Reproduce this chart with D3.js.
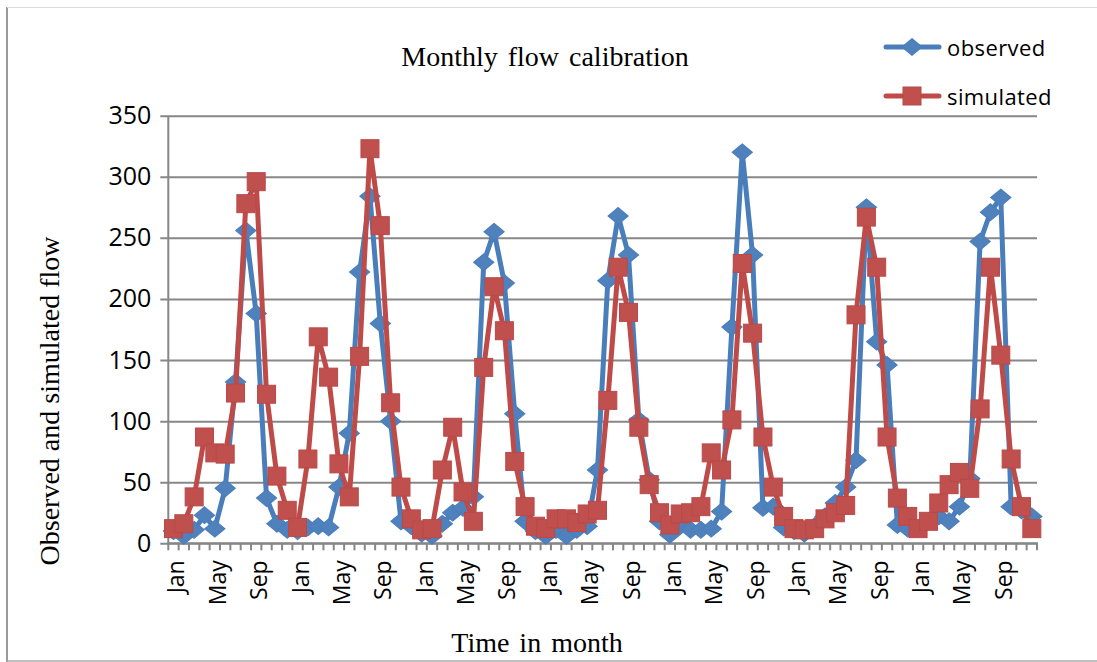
<!DOCTYPE html>
<html>
<head>
<meta charset="utf-8">
<script src="https://cdn.jsdelivr.net/npm/d3@7"></script>
<style>
  html, body { margin: 0; padding: 0; background: #fff; }
  svg { display: block; }
</style>
</head>
<body>
<svg id="chart" width="1097" height="662"></svg>
<script>
// ---- data ----
const categories = [
  "Jan","Feb","Mar","Apr","May","Jun","Jul","Aug","Sep","Oct","Nov","Dec",
  "Jan","Feb","Mar","Apr","May","Jun","Jul","Aug","Sep","Oct","Nov","Dec",
  "Jan","Feb","Mar","Apr","May","Jun","Jul","Aug","Sep","Oct","Nov","Dec",
  "Jan","Feb","Mar","Apr","May","Jun","Jul","Aug","Sep","Oct","Nov","Dec",
  "Jan","Feb","Mar","Apr","May","Jun","Jul","Aug","Sep","Oct","Nov","Dec",
  "Jan","Feb","Mar","Apr","May","Jun","Jul","Aug","Sep","Oct","Nov","Dec",
  "Jan","Feb","Mar","Apr","May","Jun","Jul","Aug","Sep","Oct","Nov","Dec"
];
const shownLabels = ["Jan","May","Sep"];
const observed = [
  10, 6, 11, 23, 12, 45, 132, 256, 188, 37, 16, 11,
  10, 13, 14, 13, 46, 90, 222, 284, 180, 100, 18, 14,
  8, 6, 16, 25, 29, 38, 230, 255, 213, 106, 18, 10,
  6, 11, 6, 11, 14, 60, 215, 268, 236, 101, 52, 18,
  7, 14, 11, 11, 12, 26, 177, 320, 236, 29, 30, 13,
  10, 8, 14, 22, 33, 46, 68, 275, 165, 146, 15, 12,
  12, 18, 22, 18, 30, 53, 247, 271, 283, 30, 27, 22
];
const simulated = [
  12, 16, 38, 87, 74, 73, 123, 278, 296, 122, 55, 27,
  13, 69, 169, 136, 65, 38, 153, 323, 260, 115, 46, 20,
  11, 12, 60, 95, 42, 18, 144, 210, 174, 67, 30, 14,
  12, 20, 20, 17, 24, 27, 117, 226, 189, 95, 48, 25,
  15, 24, 25, 30, 74, 60, 101, 229, 172, 87, 46, 22,
  12, 11, 12, 20, 25, 31, 187, 267, 226, 87, 37, 22,
  12, 18, 33, 48, 58, 45, 110, 226, 154, 69, 30, 12
];
const yTicks = [0, 50, 100, 150, 200, 250, 300, 350];
const seriesNames = ["observed", "simulated"];
const titleText = "Monthly flow calibration";
const xTitle = "Time in month";
const yTitle = "Observed and simulated flow";

(function () {
  const svg = d3.select("#chart");
  const pLeft = 168.3, pRight = 1037, pTop = 115.7, pBottom = 543.3;
  const gridColor = "#878787";
  const blue = "#4A7EBB", blueFill = "#4F81BD";
  const red = "#BE4B48", redFill = "#C0504D";

  // outer border
  svg.append("line").attr("x1", 7).attr("x2", 7).attr("y1", 7).attr("y2", 662)
    .attr("stroke", "#9a9a9a").attr("stroke-width", 2);
  svg.append("line").attr("x1", 7).attr("x2", 1097).attr("y1", 7.5).attr("y2", 7.5)
    .attr("stroke", "#dcdcdc").attr("stroke-width", 1);
  svg.append("line").attr("x1", 7).attr("x2", 1097).attr("y1", 661).attr("y2", 661)
    .attr("stroke", "#ababab").attr("stroke-width", 1.5);

  const idx = d3.range(categories.length);
  const x = d3.scaleBand().domain(idx).range([pLeft, pRight]).padding(0);
  const y = d3.scaleLinear().domain([0, 350]).range([pBottom, pTop]);
  const cx = i => x(i) + x.bandwidth() / 2;

  // gridlines + y ticks
  const yAxis = d3.axisLeft(y).tickValues(yTicks).tickSize(-(pRight - pLeft)).tickSizeOuter(0);
  const gy = svg.append("g").attr("transform", `translate(${pLeft},0)`).call(yAxis);
  gy.select(".domain").remove();
  gy.selectAll(".tick line").attr("stroke", gridColor).attr("stroke-width", 2).attr("x1", -8);
  gy.selectAll(".tick text").attr("font-family", "'Open Sans', sans-serif").attr("font-size", 25)
    .attr("fill", "#000").attr("x", -17);

  // y axis line
  svg.append("line").attr("x1", pLeft).attr("x2", pLeft).attr("y1", pTop).attr("y2", pBottom)
    .attr("stroke", gridColor).attr("stroke-width", 2);

  // x axis: ticks between categories
  const gx = svg.append("g").attr("transform", `translate(0,${pBottom})`);
  gx.append("line").attr("x1", pLeft - 1).attr("x2", pRight + 1).attr("y1", 0).attr("y2", 0)
    .attr("stroke", gridColor).attr("stroke-width", 2);
  const boundaries = d3.range(categories.length + 1).map(k => k === categories.length ? pRight : x(k));
  gx.selectAll("line.tk").data(boundaries).join("line").attr("class", "tk")
    .attr("x1", d => d).attr("x2", d => d).attr("y1", 0).attr("y2", 7)
    .attr("stroke", gridColor).attr("stroke-width", 2);
  const labelIdx = idx.filter(i => i % 4 === 0 && shownLabels.includes(categories[i]));
  gx.selectAll("text.xl").data(labelIdx).join("text").attr("class", "xl")
    .attr("transform", i => `translate(${cx(i) + 2},${17}) rotate(-90)`)
    .attr("text-anchor", "end").attr("dominant-baseline", "central")
    .attr("font-family", "'Open Sans', sans-serif").attr("font-size", 23).attr("fill", "#000")
    .text(i => categories[i]);

  // series
  function drawLine(data, color) {
    svg.append("path").datum(data)
      .attr("fill", "none").attr("stroke", color).attr("stroke-width", 5)
      .attr("stroke-linejoin", "round").attr("stroke-linecap", "round")
      .attr("d", d3.line().x((d, i) => cx(i)).y(d => y(d)));
  }
  drawLine(observed, blue);
  const diamond = d3.symbol().type(d3.symbolDiamond2).size(180);
  svg.append("g").selectAll("path").data(observed).join("path")
    .attr("transform", (d, i) => `translate(${cx(i)},${y(d)}) scale(1.2,1)`)
    .attr("d", diamond).attr("fill", blueFill).attr("stroke", blue).attr("stroke-width", 1);

  drawLine(simulated, red);
  const sq = 18;
  svg.append("g").selectAll("rect").data(simulated).join("rect")
    .attr("x", (d, i) => cx(i) - sq / 2).attr("y", d => y(d) - sq / 2)
    .attr("width", sq).attr("height", sq)
    .attr("fill", redFill).attr("stroke", "#B9494A").attr("stroke-width", 1);

  // titles
  const serif = "'Liberation Serif', 'Times New Roman', serif";
  svg.append("text").attr("x", 545).attr("y", 66).attr("text-anchor", "middle")
    .attr("font-family", serif).attr("font-size", 28)
    .attr("word-spacing", 3).attr("fill", "#000").text(titleText);
  svg.append("text").attr("x", 537).attr("y", 652).attr("text-anchor", "middle")
    .attr("font-family", serif).attr("font-size", 28)
    .attr("word-spacing", 3).attr("fill", "#000").text(xTitle);
  svg.append("text").attr("transform", "translate(59,401) rotate(-90)").attr("text-anchor", "middle")
    .attr("font-family", serif).attr("font-size", 28)
    .attr("fill", "#000").text(yTitle);

  // legend
  const legend = svg.append("g");
  const legY = [47, 96];
  const legColors = [blue, red];
  seriesNames.forEach((name, k) => {
    legend.append("line").attr("x1", 886).attr("x2", 939).attr("y1", legY[k]).attr("y2", legY[k])
      .attr("stroke", legColors[k]).attr("stroke-width", 5).attr("stroke-linecap", "round");
    if (k === 0) {
      legend.append("path").attr("transform", `translate(912,${legY[k]}) scale(1.2,1)`)
        .attr("d", diamond).attr("fill", blueFill).attr("stroke", blue);
    } else {
      legend.append("rect").attr("x", 912 - sq / 2).attr("y", legY[k] - sq / 2)
        .attr("width", sq).attr("height", sq).attr("fill", redFill).attr("stroke", "#B9494A");
    }
    legend.append("text").attr("x", 947).attr("y", legY[k]).attr("dominant-baseline", "central")
      .attr("font-family", "'Open Sans', sans-serif").attr("font-size", 22).attr("letter-spacing", 0.4)
      .attr("fill", "#000").text(name);
  });
})();
</script>
</body>
</html>
